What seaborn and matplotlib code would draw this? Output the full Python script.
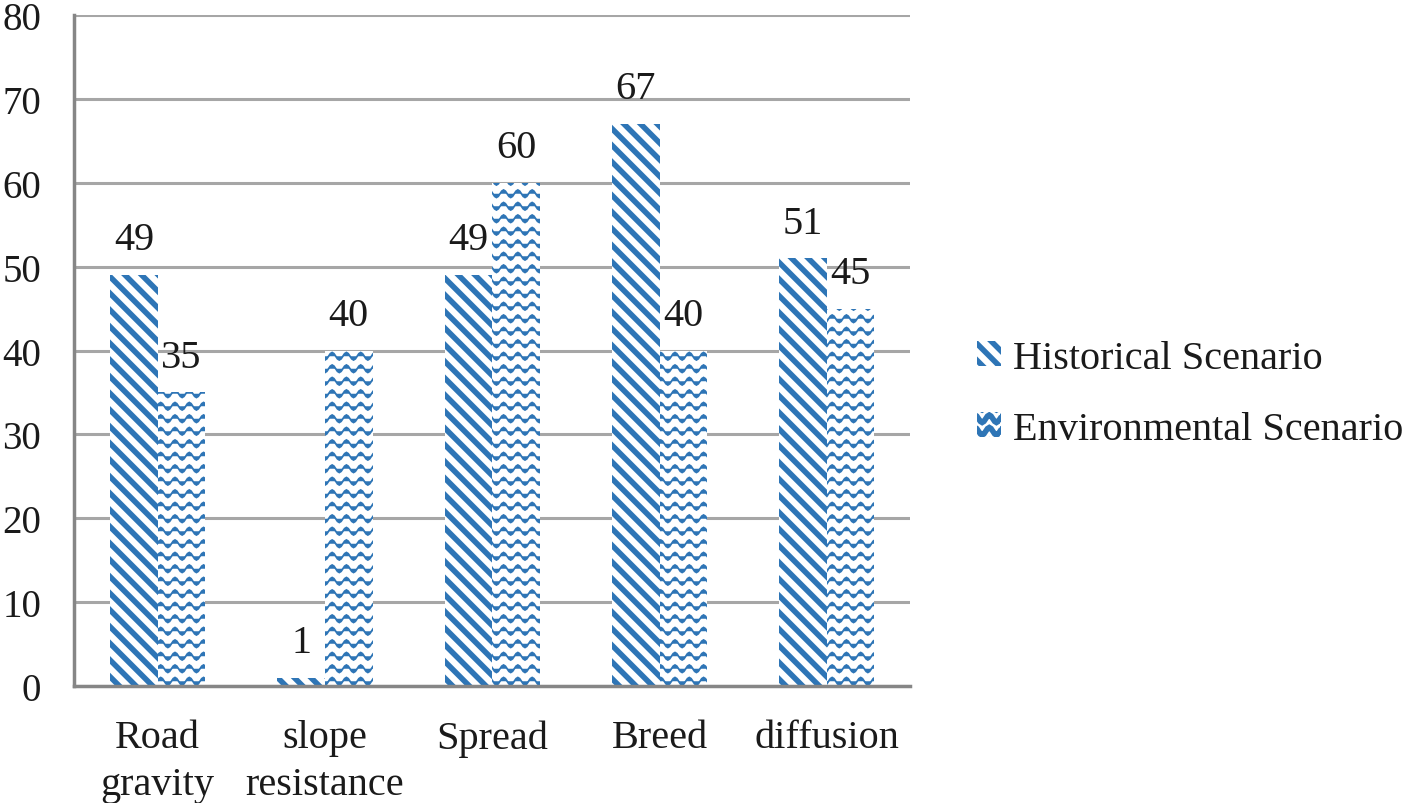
import warnings
import numpy as np
import matplotlib
matplotlib.use("Agg")
import matplotlib.pyplot as plt
import matplotlib.hatch as mhatch
from matplotlib.path import Path
import seaborn as sns
import pandas as pd
from matplotlib.patches import Patch

warnings.filterwarnings("ignore")

categories = ["Road\ngravity", "slope\nresistance", "Spread", "Breed", "diffusion"]
historical = [49, 1, 49, 67, 51]
environmental = [35, 40, 60, 40, 45]
series_names = ["Historical Scenario", "Environmental Scenario"]
y_ticks = [0, 10, 20, 30, 40, 50, 60, 70, 80]


class WaveHatch(mhatch.HatchPatternBase):
    """Wavy hatch triggered by '~'."""
    STEPS = 8  # samples per period

    def __init__(self, hatch, density):
        n = hatch.count("~")
        self.rows = 8 * n
        self.periods = 7
        self.num_vertices = self.rows * (self.STEPS * self.periods + 1)
        self.filled = False

    def set_vertices_and_codes(self, vertices, codes):
        idx = 0
        amp = 0.3 / max(self.rows, 1)
        npts = self.STEPS * self.periods + 1
        for r in range(self.rows):
            y0 = (r + 0.5) / self.rows
            for k in range(npts):
                x = k / (npts - 1)
                y = y0 + amp * np.sin(2 * np.pi * self.periods * x)
                vertices[idx] = (x, y)
                codes[idx] = Path.MOVETO if k == 0 else Path.LINETO
                idx += 1


if WaveHatch not in mhatch._hatch_types:
    mhatch._hatch_types.append(WaveHatch)

sns.set_theme(style="white")
plt.rcParams["font.family"] = ["Liberation Serif", "DejaVu Serif"]
plt.rcParams["hatch.linewidth"] = 4.0

BLUE = "#2e75b6"
TEXT = "#1a1a1a"

df = pd.DataFrame({
    "cat": categories * 2,
    "val": historical + environmental,
    "series": [series_names[0]] * len(categories) + [series_names[1]] * len(categories),
})

fig = plt.figure(figsize=(14.08, 8.04), dpi=100)
ax = fig.add_axes([0.0526, 0.1455, 0.594, 0.8345])

sns.barplot(data=df, x="cat", y="val", hue="series", order=categories,
            hue_order=series_names, palette=[BLUE, BLUE], width=0.57,
            gap=0, ax=ax, legend=False, errorbar=None, saturation=1)

hatches = ["\\\\", "~"]
hatch_lw = [4.0, 1.3]
for cont, h, lw in zip(ax.containers, hatches, hatch_lw):
    for p in cont.patches:
        p.set_facecolor("white")
        p.set_edgecolor(BLUE)
        p.set_linewidth(0)
        p.set_hatch(h)
        try:
            p.set_hatch_linewidth(lw)
        except Exception:
            pass
    ax.bar_label(cont, labels=[f"{v:g}" for v in cont.datavalues], padding=12,
                 fontsize=29, color=TEXT)

ax.set_ylim(0, 80)
ax.set_xlim(-0.5, len(categories) - 0.5)
ax.set_yticks(y_ticks)
ax.set_yticklabels([str(t) for t in y_ticks], fontsize=28, color=TEXT)
ax.set_xticks(range(len(categories)))
ax.set_xticklabels(categories, fontsize=29, color=TEXT, linespacing=1.35)
ax.set_xticks([i - 0.5 for i in range(len(categories) + 1)], minor=True)
ax.tick_params(axis="x", which="major", length=0, pad=24)
ax.tick_params(axis="x", which="minor", length=8.6, width=2.5, color="#868686", direction="out")
ax.tick_params(axis="y", length=8.6, width=2.5, color="#868686", direction="out", pad=15)
ax.set_xlabel("")
ax.set_ylabel("")

ax.yaxis.grid(True, color="#a6a6a6", linewidth=2.2)
ax.set_axisbelow(True)
for s in ["top", "right"]:
    ax.spines[s].set_visible(False)
for s in ["left", "bottom"]:
    ax.spines[s].set_color("#868686")
    ax.spines[s].set_linewidth(2.5)

handles = []
for h, lw in zip(hatches, hatch_lw):
    hp = Patch(facecolor="white", edgecolor=BLUE, linewidth=0, hatch=h)
    try:
        hp.set_hatch_linewidth(lw)
    except Exception:
        pass
    handles.append(hp)
fig.legend(handles, series_names, loc="center left", bbox_to_anchor=(0.668, 0.509),
           frameon=False, fontsize=29, handlelength=0.6, handleheight=0.6,
           handletextpad=0.3, labelspacing=0.85, labelcolor=TEXT)

fig.savefig("out.png", dpi=100)
